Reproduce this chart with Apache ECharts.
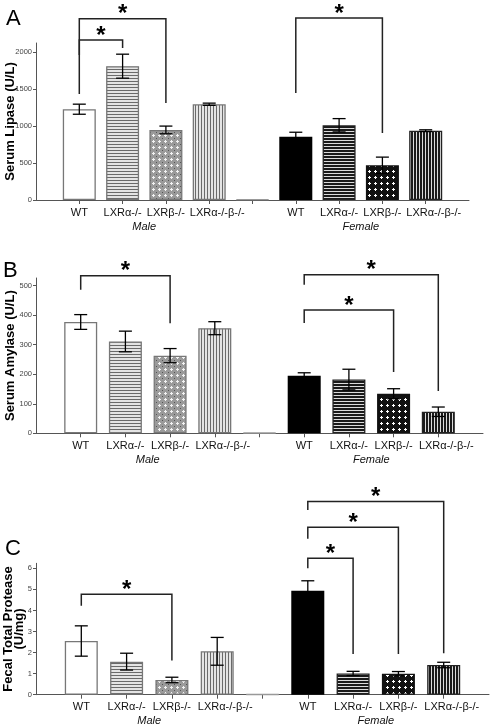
<!DOCTYPE html>
<html>
<head>
<meta charset="utf-8">
<script src="https://cdn.jsdelivr.net/npm/echarts@6/dist/echarts.min.js"></script>
<style>
html,body{margin:0;padding:0;background:#fff;}
#chart{width:490px;height:728px;}
</style>
</head>
<body>
<div id="chart"></div>
<script>
// ---------- data ----------
const categories = ['WT', 'LXRα-/-', 'LXRβ-/-', 'LXRα-/-β-/-', '', 'WT', 'LXRα-/-', 'LXRβ-/-', 'LXRα-/-β-/-'];
const positions = [1, 2, 3, 4, 5, 6, 7, 8, 9];
const groupNames = ['Male', 'Female'];
const groupPositions = [2.5, 7.5];

const lipase = [1226, 1807, 946, 1293, 8, 855, 1009, 469, 936];
const lipaseErr = [68, 162, 52, 15, 0, 60, 90, 110, 12];
const amylase = [377, 311, 263, 356, 2, 195, 182, 134, 73];
const amylaseErr = [25, 35, 24, 22, 0, 10, 35, 17, 16];
const protease = [2.55, 1.57, 0.70, 2.06, 0.02, 4.94, 1.01, 1.00, 1.41];
const proteaseErr = [0.72, 0.40, 0.13, 0.66, 0, 0.47, 0.10, 0.10, 0.13];

// brackets: [xFrom, xTo, yTop, yLeftEnd, yRightEnd]
const lipaseBrackets = [[1, 2, 2162, 1959, 2054], [1, 3, 2446, 1432, 1311], [6, 8, 2459, 1446, 905]];
const amylaseBrackets = [[1, 3, 534, 486, 373], [6, 8, 418, 374, 208], [6, 9, 537, 503, 143]];
const proteaseBrackets = [[1, 3, 4.77, 4.23, 1.62], [6, 7, 6.48, 6.00, 1.93], [6, 8, 7.95, 7.40, 1.93], [6, 9, 9.17, 8.77, 1.97]];

const lipaseTicks = [0, 500, 1000, 1500, 2000];
const amylaseTicks = [0, 100, 200, 300, 400, 500];
const proteaseTicks = [0, 1, 2, 3, 4, 5, 6];

// ---------- patterns ----------
function pat(w, h, draw) {
  const c = document.createElement('canvas');
  c.width = w; c.height = h;
  const g = c.getContext('2d');
  draw(g);
  return { image: c, repeat: 'repeat' };
}
const hStripe = (dark, light, nd) => pat(3, 3, g => { g.fillStyle = light; g.fillRect(0, 0, 3, 3); g.fillStyle = dark; g.fillRect(0, 0, 3, nd); });
const vStripe = (dark, light, nd) => pat(3, 3, g => { g.fillStyle = light; g.fillRect(0, 0, 3, 3); g.fillStyle = dark; g.fillRect(0, 0, nd, 3); });
const cross = (bg, dot, plus) => pat(6, 6, g => {
  g.fillStyle = bg; g.fillRect(0, 0, 6, 6);
  g.fillStyle = dot; g.fillRect(0, 0, 1, 1);
  g.fillStyle = plus; g.fillRect(2, 3, 3, 1); g.fillRect(3, 2, 1, 3);
});

const styles = [
  { color: '#fff', borderColor: '#777' },
  { color: hStripe('#6a6a6a', '#e4e4e4', 1), borderColor: '#777' },
  { color: cross('#9a9a9a', '#555', '#f2f2f2'), borderColor: '#777' },
  { color: vStripe('#6a6a6a', '#e4e4e4', 1), borderColor: '#777' },
  { color: '#fff', borderColor: '#999' },
  { color: '#000', borderColor: '#000' },
  { color: hStripe('#1a1a1a', '#dcdcdc', 2), borderColor: '#222' },
  { color: cross('#111', '#111', '#fff'), borderColor: '#111' },
  { color: vStripe('#1a1a1a', '#dcdcdc', 2), borderColor: '#222' }
];

const FONT = '"Liberation Sans", Arial, sans-serif';

// ---------- panel builder ----------
const grids = [
  { left: 36, top: 43, width: 433, height: 157, containLabel: false, outerBoundsMode: 'none' },
  { left: 36, top: 278, width: 447, height: 155.3, containLabel: false, outerBoundsMode: 'none' },
  { left: 36, top: 563.3, width: 453, height: 131.4, containLabel: false, outerBoundsMode: 'none' }
];
const panels = [
  { vals: lipase, errs: lipaseErr, br: lipaseBrackets, ticks: lipaseTicks, max: 2120, name: 'Serum Lipase (U/L)', gap: 20.5 },
  { vals: amylase, errs: amylaseErr, br: amylaseBrackets, ticks: amylaseTicks, max: 526, name: 'Serum Amylase (U/L)', gap: 20.5 },
  { vals: protease, errs: proteaseErr, br: proteaseBrackets, ticks: proteaseTicks, max: 6.24, name: 'Fecal Total Protease\n(U/mg)', gap: 11 }
];

const xAxis = [], yAxis = [], series = [];
panels.forEach((p, i) => {
  xAxis.push({
    type: 'value', gridIndex: i, min: 0, max: 10,
    axisLine: { show: true, lineStyle: { color: '#555', width: 1 } },
    axisTick: { show: true, length: 4, lineStyle: { color: '#555' }, customValues: positions },
    axisLabel: {
      show: true, hideOverlap: false,
      customValues: positions.filter(v => categories[v - 1] !== ''),
      formatter: v => {
        const t = categories[Math.round(v) - 1] || '';
        return t.length > 8 ? '{w|' + t + '}' : t;
      },
      rich: { w: { fontFamily: FONT, fontSize: 11, color: '#111', padding: [0, 0, 0, 16] } },
      fontFamily: FONT, fontSize: 11, color: '#111', margin: 7
    },
    splitLine: { show: false }
  });
  xAxis.push({
    type: 'value', gridIndex: i, min: 0, max: 10, position: 'bottom',
    axisLine: { show: false }, axisTick: { show: false }, splitLine: { show: false },
    axisLabel: {
      show: true, hideOverlap: false, customValues: groupPositions,
      formatter: v => groupNames[groupPositions.indexOf(v)] || '',
      fontFamily: FONT, fontSize: 11, fontStyle: 'italic', color: '#111', margin: 21
    }
  });
  yAxis.push({
    type: 'value', gridIndex: i, min: 0, max: p.max,
    name: p.name, nameLocation: 'middle', nameGap: p.gap, nameMoveOverlap: false,
    nameTextStyle: { fontFamily: FONT, fontSize: 13, fontWeight: 'bold', color: '#000', lineHeight: 11 },
    axisLine: { show: true, lineStyle: { color: '#555', width: 1 } },
    axisTick: { show: true, length: 3, lineStyle: { color: '#555' }, customValues: p.ticks },
    axisLabel: { show: true, customValues: p.ticks, formatter: v => String(v),
      fontFamily: FONT, fontSize: 7.5, color: '#444', margin: 4 },
    splitLine: { show: false }
  });
  series.push({
    type: 'bar', xAxisIndex: i * 2, yAxisIndex: i, barWidth: 33, z: 2,
    data: p.vals.map((v, k) => ({
      value: [positions[k], v],
      itemStyle: { color: styles[k].color, borderColor: styles[k].borderColor, borderWidth: 1.3 }
    })),
    animation: false
  });
  series.push({
    type: 'custom', xAxisIndex: i * 2, yAxisIndex: i, z: 5, clip: false,
    data: p.vals.map((v, k) => [positions[k], v, p.errs[k]]),
    renderItem: (params, api) => {
      const x = api.value(0), y = api.value(1), e = api.value(2);
      if (!e) return null;
      const top = api.coord([x, y + e]);
      const bot = api.coord([x, y - e]);
      const hw = 6.5;
      const ls = { stroke: '#000', lineWidth: 1.3 };
      return {
        type: 'group', children: [
          { type: 'line', shape: { x1: top[0], y1: top[1], x2: bot[0], y2: bot[1] }, style: ls },
          { type: 'line', shape: { x1: top[0] - hw, y1: top[1], x2: top[0] + hw, y2: top[1] }, style: ls },
          { type: 'line', shape: { x1: bot[0] - hw, y1: bot[1], x2: bot[0] + hw, y2: bot[1] }, style: ls }
        ]
      };
    },
    animation: false
  });
  series.push({
    type: 'custom', xAxisIndex: i * 2, yAxisIndex: i, z: 6, clip: false,
    data: p.br,
    renderItem: (params, api) => {
      const x1 = api.value(0), x2 = api.value(1), yt = api.value(2), yl = api.value(3), yr = api.value(4);
      const a = api.coord([x1, yt]), b = api.coord([x2, yt]);
      const al = api.coord([x1, yl]), br = api.coord([x2, yr]);
      const ls = { stroke: '#222', lineWidth: 1.5, fill: null };
      return {
        type: 'group', children: [
          { type: 'polyline', shape: { points: [al, a, b, br] }, style: ls },
          { type: 'text', x: (a[0] + b[0]) / 2, y: a[1] - 4,
            style: { text: '*', font: 'bold 24px ' + FONT, fill: '#000', align: 'center', verticalAlign: 'middle' } }
        ]
      };
    },
    animation: false
  });
});

const chart = echarts.init(document.getElementById('chart'), null, { renderer: 'canvas' });
chart.setOption({
  animation: false,
  backgroundColor: '#fff',
  title: [
    { text: 'A', left: 1, top: 3, textStyle: { fontFamily: FONT, fontSize: 22, fontWeight: 'normal', color: '#000' } },
    { text: 'B', left: -2, top: 255, textStyle: { fontFamily: FONT, fontSize: 22, fontWeight: 'normal', color: '#000' } },
    { text: 'C', left: 0, top: 533, textStyle: { fontFamily: FONT, fontSize: 22, fontWeight: 'normal', color: '#000' } }
  ],
  grid: grids,
  xAxis: xAxis,
  yAxis: yAxis,
  series: series
});
</script>
</body>
</html>
